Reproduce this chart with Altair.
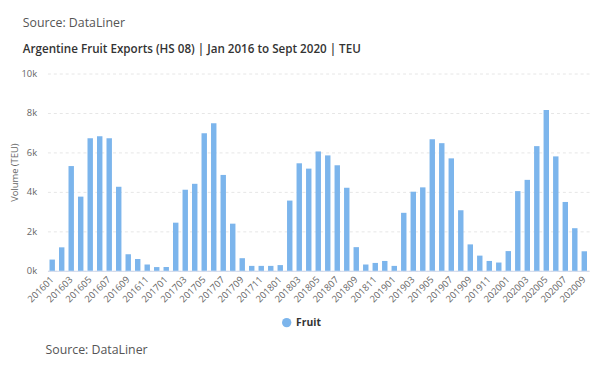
import altair as alt
import pandas as pd

months = [f"{y}{m:02d}" for y in range(2016, 2021) for m in range(1, 13)][:57]
values = [570, 1190, 5310, 3760, 6720, 6820, 6720, 4260, 840, 600, 320, 190,
          195, 2440, 4110, 4410, 6970, 7480, 4860, 2390, 640, 250, 250, 250,
          290, 3560, 5450, 5180, 6050, 5850, 5350, 4210, 1200, 320, 400, 500,
          250, 2940, 4010, 4230, 6670, 6470, 5700, 3070, 1340, 770, 500, 420,
          1000, 4040, 4610, 6320, 8150, 5800, 3490, 2160, 990]
series = ["Fruit"] * len(months)
label_months = months[::2]
y_ticks = [0, 2000, 4000, 6000, 8000, 10000]

df = pd.DataFrame({"month": months, "value": values, "series": series})

FONT = "Open Sans"

chart = alt.Chart(df).mark_bar(width=5.5).encode(
    x=alt.X("month:O", sort=None,
            scale=alt.Scale(paddingInner=0.4, paddingOuter=0.2),
            axis=alt.Axis(values=label_months, labelAngle=-45, labelAlign="right",
                          labelBaseline="middle", labelFontSize=9.5, labelColor="#666666",
                          labelPadding=7, ticks=False, domainColor="#ccd6eb",
                          labelFont=FONT,
                          title="Source: DataLiner", titleX=-2.5, titleY=84,
                          titleAlign="left", titleBaseline="alphabetic", titleAnchor="start",
                          titleFontWeight="normal", titleColor="#555555", titleFontSize=12.5,
                          titleFont=FONT)),
    y=alt.Y("value:Q", scale=alt.Scale(domain=[0, 10000], nice=False),
            axis=alt.Axis(values=y_ticks, format="~s", title="Volume (TEU)",
                          labelFontSize=9.5, labelColor="#666666", labelPadding=11,
                          labelFont=FONT, titleFont=FONT,
                          titleFontSize=9.5, titleColor="#666666", titleFontWeight="normal",
                          titleX=-33, titleY=100, titleAngle=-90, titleAlign="center",
                          titleBaseline="middle",
                          domain=False, ticks=False,
                          gridColor="#e6e6e6", gridDash=[3, 3])),
    color=alt.Color("series:N", scale=alt.Scale(range=["#7cb5ec"]),
                    legend=alt.Legend(title=None, orient="none", legendX=237, legendY=247,
                                      symbolType="circle", symbolSize=90,
                                      labelFontSize=10.5, labelFontWeight="bold",
                                      labelColor="#333333", labelFont=FONT, padding=0)),
).properties(
    width=549, height=200,
    autosize=alt.AutoSizeParams(type="none"),
    padding={"left": 40, "top": 64, "right": 3, "bottom": 89},
    title=alt.Title("Source: DataLiner",
                    subtitle="Argentine Fruit Exports (HS 08) | Jan 2016 to Sept 2020 | TEU",
                    anchor="start", dx=-25, offset=13, frame="group",
                    fontSize=12.5, fontWeight="normal", color="#555555", font=FONT,
                    subtitleFontSize=11.8, subtitleFontWeight=600, subtitleColor="#333333",
                    subtitleFont=FONT, subtitlePadding=15),
).configure_view(stroke=None)

chart.save("out.html", embed_options={"renderer": "svg", "actions": False})
